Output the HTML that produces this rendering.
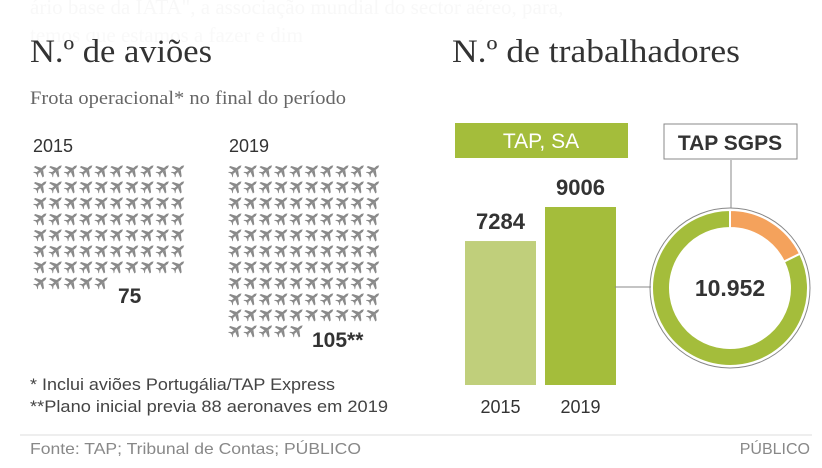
<!DOCTYPE html>
<html><head><meta charset="utf-8"><style>
body{margin:0;width:822px;height:468px;background:#fff;overflow:hidden;font-family:"Liberation Sans",sans-serif}
svg{display:block}
</style></head><body>
<svg width="822" height="468" viewBox="0 0 822 468">
<text x="30" y="14" font-family="Liberation Serif" font-size="21" fill="#f8f8f8">ário base da IATA", a associação mundial do sector aéreo, para,</text>
<text x="30" y="42" font-family="Liberation Serif" font-size="21" fill="#f9f9f9">temos que estamos a fazer e dim</text>
<text x="30" y="62" font-family="Liberation Serif" font-size="33" fill="#333" textLength="182" lengthAdjust="spacingAndGlyphs">N.º de aviões</text>
<text x="30" y="104" font-family="Liberation Serif" font-size="19" fill="#666" textLength="316" lengthAdjust="spacingAndGlyphs">Frota operacional* no final do período</text>
<text x="452" y="62" font-family="Liberation Serif" font-size="33" fill="#333" textLength="288" lengthAdjust="spacingAndGlyphs">N.º de trabalhadores</text>
<text x="33" y="152" font-size="18" fill="#333">2015</text>
<text x="229" y="152" font-size="18" fill="#333">2019</text>
<g id="planes"></g>
<text id="n2015" x="118" y="303" font-size="21" font-weight="bold" fill="#333">75</text>
<text id="n2019" x="312" y="347" font-size="21" font-weight="bold" fill="#333">105**</text>
<text x="30" y="390" font-size="17" fill="#444" textLength="305" lengthAdjust="spacingAndGlyphs">* Inclui aviões Portugália/TAP Express</text>
<text x="30" y="412" font-size="17" fill="#444" textLength="358" lengthAdjust="spacingAndGlyphs">**Plano inicial  previa 88 aeronaves em 2019</text>
<rect x="455" y="123" width="173" height="35" fill="#a4bd3b"/>
<text x="541" y="148" font-size="21" fill="#fff" text-anchor="middle">TAP, SA</text>
<g id="bars"></g>
<line x1="615" y1="287" x2="666" y2="287" stroke="#888" stroke-width="1"/>
<circle cx="666" cy="287" r="2" fill="#222"/>
<line x1="731" y1="160" x2="731" y2="208" stroke="#888" stroke-width="1"/>
<rect x="664" y="124" width="133" height="35" fill="#fff" stroke="#888"/>
<text x="730" y="150" font-size="21" font-weight="bold" fill="#333" text-anchor="middle">TAP SGPS</text>
<circle cx="730" cy="288" r="80" fill="none" stroke="#888" stroke-width="1"/>
<g id="donut"></g>
<text x="730" y="296" font-size="23" font-weight="bold" fill="#333" text-anchor="middle">10.952</text>
<line x1="20" y1="435" x2="812" y2="435" stroke="#ddd"/>
<text x="30" y="454" font-size="16" fill="#888" textLength="331" lengthAdjust="spacingAndGlyphs">Fonte: TAP; Tribunal de Contas; PÚBLICO</text>
<text x="810" y="454" font-size="16" fill="#888" text-anchor="end">PÚBLICO</text>
</svg>
<script>
const fleetYears=["2015","2019"];
const fleetCounts=[75,105];
const barYears=["2015","2019"];
const barValues=[7284,9006];
const donutValues=[9006,1946];
const ns="http://www.w3.org/2000/svg";
function mk(t,a){const e=document.createElementNS(ns,t);for(const k in a)e.setAttribute(k,a[k]);return e;}
const pg=document.getElementById('planes');
const gx=[34,229];
const planeD="M8,0 L5.5,-1.3 L-5,-1.3 L-7.5,-3.5 L-8.5,-3.5 L-7,-1.2 L-7,1.2 L-8.5,3.5 L-7.5,3.5 L-5,1.3 L5.5,1.3 Z M2,-1.2 L-2,-7.5 L-4,-7.5 L-2,-1.2 Z M2,1.2 L-2,7.5 L-4,7.5 L-2,1.2 Z";
fleetCounts.forEach((n,g)=>{
  for(let i=0;i<n;i++){
    const c=i%10,r=Math.floor(i/10);
    const x=gx[g]+c*15.3+7,y=163+r*16+7;
    const p=mk('path',{d:planeD,fill:'#8a8a8a',transform:`translate(${x} ${y}) rotate(-40) scale(0.9)`});
    
    
    pg.appendChild(p);
  }
});
const bg=document.getElementById('bars');
const base=385,maxH=178,maxV=9006;
const bx=[465,545],bw=71,cols=['#c0cf7b','#a4bd3b'];
barValues.forEach((v,i)=>{
  const h=v/maxV*maxH;
  const r=mk('rect',{x:bx[i],y:base-h,width:bw,height:h,fill:cols[i]});
  
  
  bg.appendChild(r);
  const t=mk('text',{x:bx[i]+bw/2,y:base-h-12,'font-size':'22','font-weight':'bold',fill:'#333','text-anchor':'middle'});
  t.textContent=v;
  
  
  bg.appendChild(t);
  const l=mk('text',{x:bx[i]+bw/2,y:413,'font-size':'18',fill:'#333','text-anchor':'middle'});
  l.textContent=barYears[i];
  
  
  bg.appendChild(l);
});
const dg=document.getElementById('donut');
const cx=730,cy=288,R=78,r0=60;
const tot=donutValues[0]+donutValues[1];
const segs=[{v:donutValues[1],c:'#f4a25c',n:'donut-other'},{v:donutValues[0],c:'#a4bd3b',n:'donut-tap-sa'}];
let a=0;
function pt(rad,ang){return [cx+rad*Math.sin(ang),cy-rad*Math.cos(ang)];}
segs.forEach(s=>{
  const a1=a,a2=a+s.v/tot*2*Math.PI;a=a2;
  const lg=(a2-a1)>Math.PI?1:0;
  const p1=pt(R,a1),p2=pt(R,a2),p3=pt(r0,a2),p4=pt(r0,a1);
  const d=`M${p1}A${R},${R} 0 ${lg} 1 ${p2}L${p3}A${r0},${r0} 0 ${lg} 0 ${p4}Z`;
  const p=mk('path',{d:d,fill:s.c,stroke:'#fff','stroke-width':'2'});
  
  
  dg.appendChild(p);
});
</script>
</body></html>
